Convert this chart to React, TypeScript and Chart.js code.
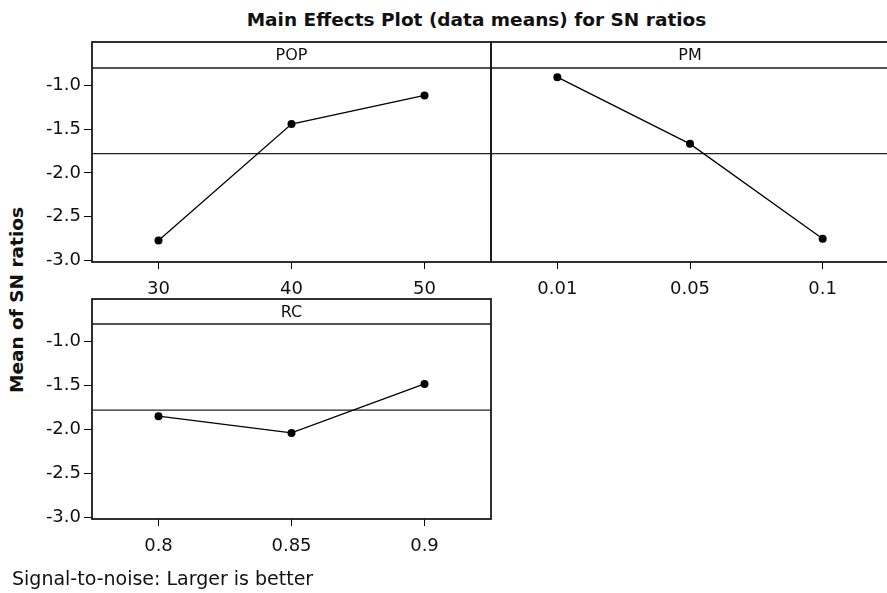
import React, { useEffect, useRef } from 'react';
import { Chart, registerables } from 'chart.js';

Chart.register(...registerables);

// ---- data ----
const popLevels = ['30', '40', '50'];
const popMeans = [-2.773, -1.441, -1.114];
const pmLevels = ['0.01', '0.05', '0.1'];
const pmMeans = [-0.905, -1.668, -2.754];
const rcLevels = ['0.8', '0.85', '0.9'];
const rcMeans = [-1.849, -2.04, -1.482];
const yTicks = [-3.0, -2.5, -2.0, -1.5, -1.0];
const yMin = -3.02;
const yMax = -0.8;

const allMeans = [...popMeans, ...pmMeans, ...rcMeans];
const grandMean = allMeans.reduce((a, b) => a + b, 0) / allMeans.length;

const FONT = 'DejaVu Sans';

function makeFramePlugin(name: string, headerH: number) {
  return {
    id: 'frame_' + name,
    beforeDatasetsDraw(chart: any) {
      const { ctx, chartArea } = chart;
      const y = chart.scales.y.getPixelForValue(grandMean);
      ctx.save();
      ctx.strokeStyle = '#222';
      ctx.lineWidth = 1.2;
      ctx.beginPath();
      ctx.moveTo(chartArea.left, y);
      ctx.lineTo(chartArea.right, y);
      ctx.stroke();
      ctx.restore();
    },
    afterDraw(chart: any) {
      const { ctx, chartArea } = chart;
      const { left, right, top, bottom } = chartArea;
      ctx.save();
      ctx.strokeStyle = '#1a1a1a';
      ctx.lineWidth = 1.8;
      ctx.strokeRect(left, top - headerH, right - left, bottom - top + headerH);
      ctx.lineWidth = 1.4;
      ctx.beginPath();
      ctx.moveTo(left, top);
      ctx.lineTo(right, top);
      ctx.stroke();
      ctx.fillStyle = '#111';
      ctx.font = `16px "${FONT}"`;
      ctx.textAlign = 'center';
      ctx.textBaseline = 'middle';
      ctx.fillText(name, (left + right) / 2, top - headerH / 2 + 1);
      ctx.restore();
    },
  };
}

type PanelProps = {
  name: string;
  labels: string[];
  values: number[];
  frameLeft: number;
  frameRight: number;
  frameTop: number;
  headerBottom: number;
  dataBottom: number;
  showY: boolean;
};

function Panel(p: PanelProps) {
  const ref = useRef<HTMLCanvasElement>(null);
  const yW = p.showY ? 92 : 2;
  const xH = 42;
  const canvasLeft = p.frameLeft - yW;
  const canvasTop = p.frameTop - 2;
  const canvasW = p.frameRight + 2 - canvasLeft;
  const canvasH = p.dataBottom + xH - canvasTop;
  const headerH = p.headerBottom - p.frameTop;

  useEffect(() => {
    if (!ref.current) return;
    const chart = new Chart(ref.current, {
      type: 'line',
      data: {
        labels: p.labels,
        datasets: [
          {
            data: p.values,
            borderColor: '#000',
            backgroundColor: '#000',
            borderWidth: 1.3,
            pointRadius: 4,
            pointBackgroundColor: '#000',
            pointBorderColor: '#000',
            pointBorderWidth: 0,
            tension: 0,
          },
        ],
      },
      options: {
        responsive: false,
        animation: false,
        devicePixelRatio: 1,
        layout: { autoPadding: false, padding: { top: p.headerBottom - canvasTop, left: 0, right: 2, bottom: 0 } },
        plugins: { legend: { display: false }, tooltip: { enabled: false }, title: { display: false } },
        scales: {
          x: {
            type: 'category',
            offset: true,
            border: { display: false },
            grid: { drawOnChartArea: false, drawTicks: true, tickLength: 7, color: '#000', lineWidth: 1 },
            ticks: { color: '#111', font: { family: FONT, size: 18 }, padding: 10, maxRotation: 0, autoSkip: false },
            afterFit: (s: any) => {
              s.height = xH;
            },
          },
          y: {
            type: 'linear',
            min: yMin,
            max: yMax,
            border: { display: false },
            grid: { display: p.showY, drawOnChartArea: false, drawTicks: true, tickLength: 8, color: '#000', lineWidth: 1 },
            ticks: {
              display: p.showY,
              color: '#111',
              font: { family: FONT, size: 18 },
              padding: 3,
              callback: (v: any) => Number(v).toFixed(1),
            },
            afterBuildTicks: (s: any) => {
              s.ticks = yTicks.map((value) => ({ value }));
            },
            afterFit: (s: any) => {
              s.width = yW;
            },
          },
        },
      },
      plugins: [makeFramePlugin(p.name, headerH)],
    } as any);
    return () => chart.destroy();
  }, []);

  return (
    <canvas
      ref={ref}
      width={canvasW}
      height={canvasH}
      style={{ position: 'absolute', left: canvasLeft, top: canvasTop, width: canvasW, height: canvasH }}
    />
  );
}

export default function App() {
  return (
    <div
      style={{
        position: 'absolute',
        left: 0,
        top: 0,
        width: 887,
        height: 593,
        overflow: 'hidden',
        background: '#fff',
        fontFamily: FONT,
        color: '#111',
      }}
    >
      <div
        style={{
          position: 'absolute',
          left: 0,
          width: 953,
          top: 8,
          textAlign: 'center',
          fontWeight: 'bold',
          fontSize: 18.5,
          lineHeight: '24px',
          whiteSpace: 'nowrap',
        }}
      >
        Main Effects Plot (data means) for SN ratios
      </div>
      <div
        style={{
          position: 'absolute',
          left: 17 - 150,
          top: 300 - 12,
          width: 300,
          height: 24,
          lineHeight: '24px',
          textAlign: 'center',
          fontWeight: 'bold',
          fontSize: 18.5,
          transform: 'rotate(-90deg)',
          whiteSpace: 'nowrap',
        }}
      >
        Mean of SN ratios
      </div>
      <Panel name="POP" labels={popLevels} values={popMeans} frameLeft={92} frameRight={491} frameTop={42} headerBottom={68} dataBottom={262} showY={true} />
      <Panel name="PM" labels={pmLevels} values={pmMeans} frameLeft={491} frameRight={889} frameTop={42} headerBottom={68} dataBottom={262} showY={false} />
      <Panel name="RC" labels={rcLevels} values={rcMeans} frameLeft={92} frameRight={491} frameTop={299} headerBottom={324} dataBottom={519} showY={true} />
      <div
        style={{
          position: 'absolute',
          left: 12,
          top: 566,
          fontSize: 19,
          lineHeight: '24px',
          whiteSpace: 'nowrap',
        }}
      >
        Signal-to-noise: Larger is better
      </div>
    </div>
  );
}
